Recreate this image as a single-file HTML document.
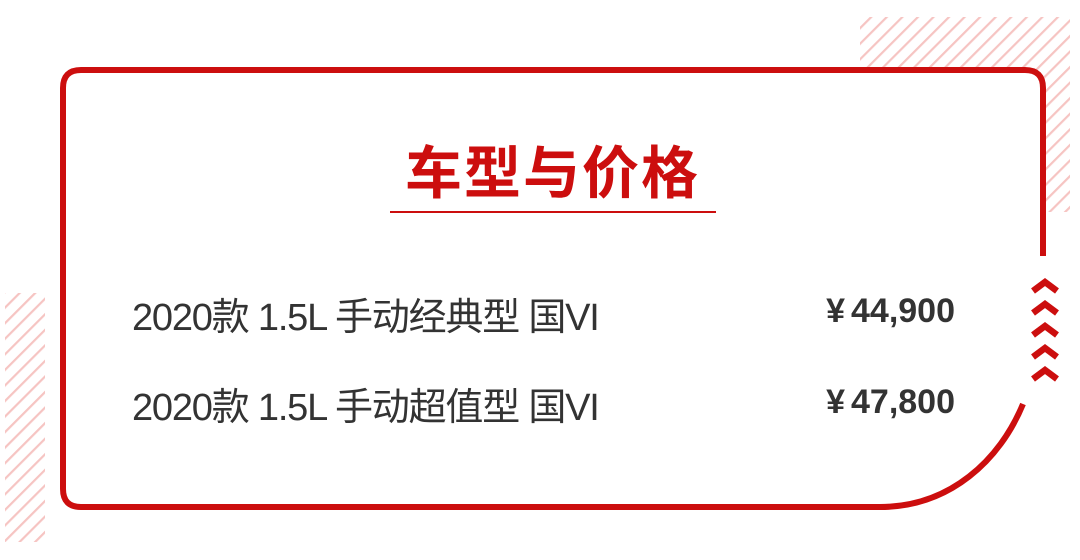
<!DOCTYPE html>
<html><head><meta charset="utf-8"><style>
html,body{margin:0;padding:0;background:#fff;}
body{width:1080px;height:560px;position:relative;overflow:hidden;}
svg{position:absolute;left:0;top:0;}
.t{position:absolute;font-family:"Liberation Sans","Noto Sans CJK SC",sans-serif;white-space:nowrap;}
</style></head><body>
<svg width="1080" height="560" viewBox="0 0 1080 560">
<defs>
<pattern id="h" width="11" height="11" patternUnits="userSpaceOnUse" patternTransform="rotate(45)">
<rect x="0" y="0" width="2.2" height="11" fill="#f6c4c2"/>
</pattern>
</defs>
<rect x="860" y="17" width="210" height="195" fill="url(#h)"/>
<rect x="5" y="293" width="40" height="249" fill="url(#h)"/>
<path d="M1043,256 V88 Q1043,70 1025,70 H81 Q63,70 63,88 V489 Q63,507 81,507 H880 C950,507 1000,460 1023,404" fill="#fff" stroke="#cc0e0e" stroke-width="6"/>
<rect x="1046" y="256" width="30" height="150" fill="#fff"/>
<line x1="390" y1="212" x2="716" y2="212" stroke="#cc0e0e" stroke-width="2"/>
<g fill="none" stroke="#cc0e0e" stroke-width="6.5" stroke-linejoin="miter">
<polyline points="1033,291 1045,282 1057,291"/>
<polyline points="1033,313 1045,304 1057,313"/>
<polyline points="1033,335 1045,326 1057,335"/>
<polyline points="1033,357 1045,348 1057,357"/>
<polyline points="1033,379 1045,370 1057,379"/>
</g>
</svg>
<div class="t" style="left:405px;top:128px;font-size:57px;font-weight:bold;color:#cc0e0e;letter-spacing:2px;">车型与价格</div>
<div class="t" style="left:132px;top:286px;font-size:38px;color:#333;letter-spacing:-1.2px;">2020款 1.5L 手动经典型 国VI</div>
<div class="t" style="left:132px;top:376px;font-size:38px;color:#333;letter-spacing:-1.2px;">2020款 1.5L 手动超值型 国VI</div>
<div class="t" style="right:125px;top:292px;font-size:34px;font-weight:bold;color:#333;"><span style="margin-right:6px">¥</span>44,900</div>
<div class="t" style="right:125px;top:383px;font-size:34px;font-weight:bold;color:#333;"><span style="margin-right:6px">¥</span>47,800</div>
</body></html>
